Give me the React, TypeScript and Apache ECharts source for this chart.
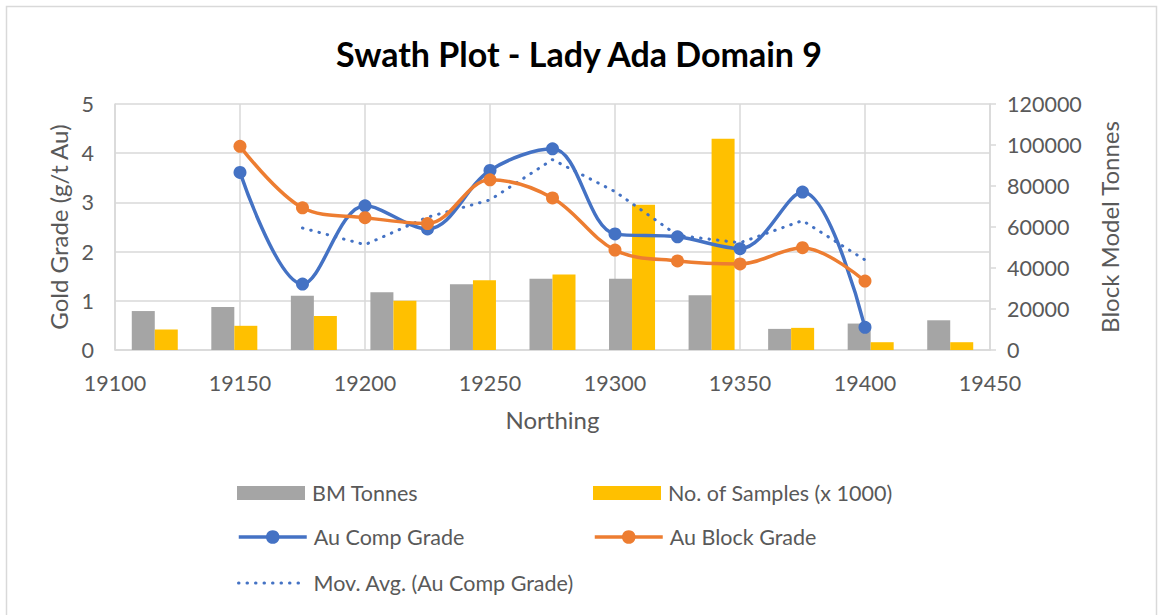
import React, { useEffect, useRef } from "react";
import * as echarts from "echarts";

const categories = ["1", "2", "3", "4", "5", "6", "7", "8", "9", "10", "11"];
const bmTonnes = [19000, 21000, 26500, 28200, 32100, 34800, 34800, 26700, 10300, 12900, 14500];
const samplesX1000 = [10000, 11800, 16600, 24000, 34000, 36800, 70800, 103000, 10800, 3800, 3800];

const northing = [19150, 19175, 19200, 19225, 19250, 19275, 19300, 19325, 19350, 19375, 19400];
const auComp = [3.61, 1.34, 2.93, 2.46, 3.65, 4.09, 2.36, 2.30, 2.06, 3.21, 0.46];
const auBlock = [4.14, 2.89, 2.69, 2.57, 3.46, 3.09, 2.03, 1.81, 1.75, 2.08, 1.40];
const movAvgX = [19175, 19200, 19225, 19250, 19275, 19300, 19325, 19350, 19375, 19400];
const movAvg = [2.48, 2.14, 2.70, 3.05, 3.87, 3.22, 2.33, 2.18, 2.63, 1.83];

const FONT = "Lato";
const TXT = "#595959";
const GRIDC = "#D9D9D9";
const LBL = 21.5;
const TTL = 24;

export default function App() {
  const ref = useRef<HTMLDivElement>(null);
  useEffect(() => {
    document.body.style.margin = "0";
    const chart = echarts.init(ref.current!, null, { renderer: "svg" });
    const legendBase = {
      itemWidth: 68,
      itemHeight: 14,
      itemGap: 8,
      padding: 0,
      textStyle: { color: TXT, fontSize: LBL, fontFamily: FONT, padding: [0, 0, 0, 2] },
      selectedMode: false as const,
    };
    const lineLegend = {
      ...legendBase,
      itemHeight: 17,
      textStyle: { ...legendBase.textStyle, padding: [0, 0, 0, 2] },
    };
    const plain = (v: number) => String(v);
    chart.setOption({
      animation: false,
      backgroundColor: "#fff",
      textStyle: { fontFamily: FONT },
      title: {
        text: "Swath Plot - Lady Ada Domain 9",
        left: "center",
        top: 31,
        textStyle: { fontSize: 34, fontWeight: "bold", color: "#000", fontFamily: FONT },
      },
      graphic: [
        {
          type: "rect",
          shape: { x: 6.5, y: 6.5, width: 1150, height: 640 },
          style: { fill: "none", stroke: GRIDC, lineWidth: 1.5 },
          silent: true,
        },
      ],
      grid: { left: 115, right: 168, top: 104, bottom: 265, containLabel: false },
      legend: [
        { ...legendBase, left: 237, top: 482, data: [{ name: "BM Tonnes", icon: "rect" }] },
        { ...legendBase, left: 593, top: 482, data: [{ name: "No. of Samples (x 1000)", icon: "rect" }] },
        {
          ...lineLegend,
          left: 237,
          top: 526,
          data: [{ name: "Au Comp Grade", lineStyle: { width: 3.5, color: "#4472C4" } }],
        },
        {
          ...lineLegend,
          left: 593,
          top: 526,
          data: [{ name: "Au Block Grade", lineStyle: { width: 3.5, color: "#ED7D31" } }],
        },
        {
          ...lineLegend,
          left: 237,
          top: 572,
          data: [
            {
              name: "Mov. Avg. (Au Comp Grade)",
              itemStyle: { opacity: 0 },
              lineStyle: { width: 3, color: "#4472C4", type: [0.5, 8], cap: "round" },
            },
          ],
        },
      ],
      xAxis: [
        {
          type: "category",
          data: categories,
          show: false,
          gridIndex: 0,
        },
        {
          type: "value",
          min: 19100,
          max: 19450,
          interval: 50,
          position: "bottom",
          name: "Northing",
          nameLocation: "middle",
          nameGap: 57,
          nameTextStyle: { color: TXT, fontSize: TTL, fontFamily: FONT },
          axisLine: { show: true, lineStyle: { color: GRIDC, width: 1.5 } },
          axisTick: { show: false },
          axisLabel: { color: TXT, fontSize: LBL, fontFamily: FONT, margin: 22, formatter: plain },
          splitLine: { show: true, lineStyle: { color: GRIDC, width: 1.5 } },
        },
      ],
      yAxis: [
        {
          type: "value",
          min: 0,
          max: 5,
          interval: 1,
          position: "left",
          name: "Gold Grade (g/t Au)",
          nameLocation: "middle",
          nameGap: 36,
          nameRotate: 90,
          nameTextStyle: { color: TXT, fontSize: TTL, fontFamily: FONT },
          axisLine: { show: true, lineStyle: { color: GRIDC, width: 1.5 } },
          axisTick: { show: false },
          axisLabel: { color: TXT, fontSize: LBL, fontFamily: FONT, margin: 21, formatter: plain },
          splitLine: { show: true, lineStyle: { color: GRIDC, width: 1.5 } },
        },
        {
          type: "value",
          min: 0,
          max: 120000,
          interval: 20000,
          position: "right",
          name: "Block Model Tonnes",
          nameLocation: "middle",
          nameGap: 107,
          nameRotate: 90,
          nameTextStyle: { color: TXT, fontSize: TTL, fontFamily: FONT },
          axisLine: { show: true, lineStyle: { color: GRIDC, width: 1.5 } },
          axisTick: { show: true, length: 6, inside: false, lineStyle: { color: GRIDC, width: 1.5 } },
          axisLabel: { color: TXT, fontSize: LBL, fontFamily: FONT, margin: 17, formatter: plain },
          splitLine: { show: false },
        },
      ],
      series: [
        {
          name: "BM Tonnes",
          type: "bar",
          xAxisIndex: 0,
          yAxisIndex: 1,
          data: bmTonnes,
          barWidth: 23,
          barGap: "0%",
          itemStyle: { color: "#A5A5A5" },
          z: 1,
        },
        {
          name: "No. of Samples (x 1000)",
          type: "bar",
          xAxisIndex: 0,
          yAxisIndex: 1,
          data: samplesX1000,
          barWidth: 23,
          barGap: "0%",
          itemStyle: { color: "#FFC000" },
          z: 1,
        },
        {
          name: "Au Comp Grade",
          type: "line",
          xAxisIndex: 1,
          yAxisIndex: 0,
          data: northing.map((x, i) => [x, auComp[i]]),
          smooth: 0.35,
          symbol: "circle",
          symbolSize: 13,
          lineStyle: { color: "#4472C4", width: 3.5 },
          itemStyle: { color: "#4472C4" },
          z: 4,
        },
        {
          name: "Au Block Grade",
          type: "line",
          xAxisIndex: 1,
          yAxisIndex: 0,
          data: northing.map((x, i) => [x, auBlock[i]]),
          smooth: 0.35,
          symbol: "circle",
          symbolSize: 13,
          lineStyle: { color: "#ED7D31", width: 3.5 },
          itemStyle: { color: "#ED7D31" },
          z: 5,
        },
        {
          name: "Mov. Avg. (Au Comp Grade)",
          type: "line",
          xAxisIndex: 1,
          yAxisIndex: 0,
          data: movAvgX.map((x, i) => [x, movAvg[i]]),
          symbol: "none",
          lineStyle: { color: "#4472C4", width: 3, type: [0.5, 8], cap: "round" },
          itemStyle: { color: "#4472C4" },
          z: 3,
        },
      ],
    });
    return () => chart.dispose();
  }, []);
  return <div ref={ref} style={{ width: 1158, height: 615 }} />;
}
